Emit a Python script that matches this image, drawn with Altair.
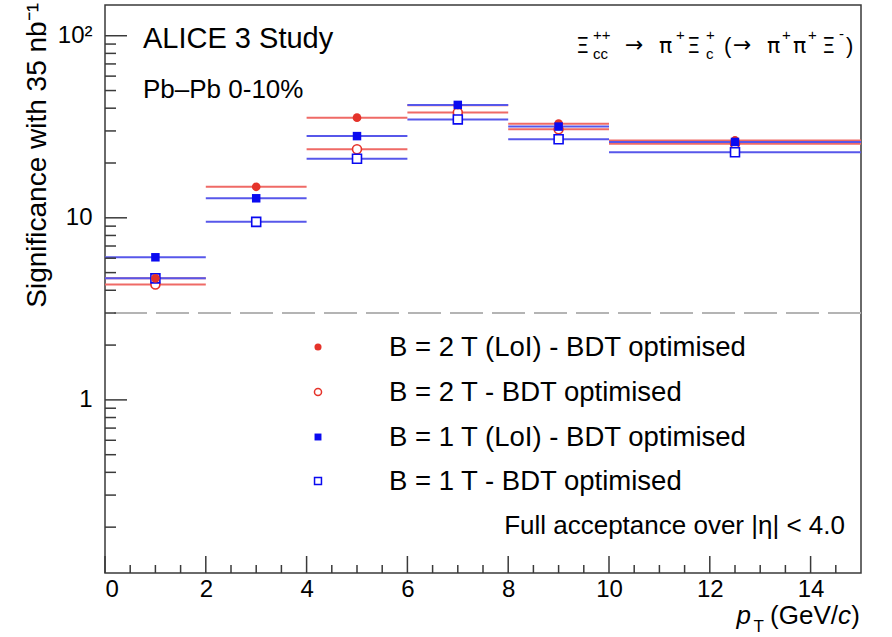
import altair as alt
import pandas as pd

# ---------------- data ----------------
pt_lo = [0, 2, 4, 6, 8, 10]
pt_hi = [2, 4, 6, 8, 10, 15]
pt_center = [1, 3, 5, 7, 9, 12.5]

sig_2T_LoI = [4.65, 14.8, 35.5, 41.5, 32.9, 26.6]
sig_2T = [4.30, None, 23.8, 37.9, 30.6, 25.5]
sig_1T_LoI = [6.07, 12.8, 28.1, 41.7, 31.7, 26.1]
sig_1T = [4.65, 9.5, 21.1, 34.7, 27.0, 22.9]

legend_labels = [
    "B = 2 T (LoI) - BDT optimised",
    "B = 2 T - BDT optimised",
    "B = 1 T (LoI) - BDT optimised",
    "B = 1 T - BDT optimised",
]
threshold = [3]
x_major = [0, 2, 4, 6, 8, 10, 12, 14]
x_minor = [0.5, 1, 1.5, 2.5, 3, 3.5, 4.5, 5, 5.5, 6.5, 7, 7.5, 8.5, 9, 9.5,
           10.5, 11, 11.5, 12.5, 13, 13.5, 14.5]
y_major = [1, 10, 100]
y_minor = [0.2, 0.3, 0.4, 0.5, 0.6, 0.7, 0.8, 0.9,
           2, 3, 4, 5, 6, 7, 8, 9,
           20, 30, 40, 50, 60, 70, 80, 90]

# ---------------- style ----------------
W, H = 756, 568
FONT = "Liberation Sans"
SYMF = "DejaVu Sans"
RED_M, RED_L = "#e5332a", "#ef6a66"
BLUE_M, BLUE_L = "#0a0af0", "#5757ea"
FRAME = "#3a3a3a"

xs = alt.Scale(domain=[0, 15], nice=False, zero=False)
ys = alt.Scale(type="log", domain=[0.112, 147.5], nice=False)

AX_X = alt.Axis(values=x_major, title=None, ticks=False, tickSize=0, domain=False,
                grid=False, labelFontSize=24, labelPadding=4, labelFont=FONT,
                labelColor="black", format="d")
AX_Y = alt.Axis(values=y_major, title=None, ticks=False, tickSize=0, domain=False,
                grid=False, labelFontSize=24, labelPadding=13, labelFont=FONT,
                labelColor="black",
                labelExpr="datum.value >= 100 ? '10²' : datum.value >= 10 ? '10' : '1'")


def sdf(vals):
    return pd.DataFrame({"lo": pt_lo, "hi": pt_hi, "pt": pt_center, "sig": vals}).dropna()


def bars(vals, color):
    return alt.Chart(sdf(vals)).mark_rule(color=color, strokeWidth=2).encode(
        x=alt.X("lo:Q", scale=xs, axis=AX_X), x2="hi:Q",
        y=alt.Y("sig:Q", scale=ys, axis=AX_Y))


def pts(vals, shape, color, filled, size):
    if filled:
        m = alt.Chart(sdf(vals)).mark_point(shape=shape, size=size, filled=True,
                                            color=color, opacity=1)
    else:
        m = alt.Chart(sdf(vals)).mark_point(shape=shape, size=size, filled=True,
                                            fill="white", stroke=color, strokeWidth=1.6,
                                            opacity=1, fillOpacity=1)
    return m.encode(x=alt.X("pt:Q", scale=xs, axis=AX_X),
                    y=alt.Y("sig:Q", scale=ys, axis=AX_Y))


one = pd.DataFrame({"a": [0]})


def txt(t, x, y, size, align="left", baseline="alphabetic", style="normal", angle=0, font=FONT):
    kw = dict(text=t, fontSize=size, font=font, align=align, baseline=baseline,
              color="black", fontStyle=style)
    if angle:
        kw["angle"] = angle
    return alt.Chart(one).mark_text(**kw).encode(x=alt.value(x), y=alt.value(y))


# ---------------- layers ----------------
dash = alt.Chart(pd.DataFrame({"v": threshold})).mark_rule(
    color="#b4b4b4", strokeWidth=2, strokeDash=[33, 9]).encode(
    y=alt.Y("v:Q", scale=ys, axis=AX_Y))

ytM = alt.Chart(pd.DataFrame({"v": y_major})).mark_rule(color=FRAME, strokeWidth=1.5).encode(
    y=alt.Y("v:Q", scale=ys, axis=AX_Y), x=alt.value(0), x2=alt.value(22))
ytm = alt.Chart(pd.DataFrame({"v": y_minor})).mark_rule(color=FRAME, strokeWidth=1.5).encode(
    y=alt.Y("v:Q", scale=ys, axis=AX_Y), x=alt.value(0), x2=alt.value(11))
xtM = alt.Chart(pd.DataFrame({"v": x_major})).mark_rule(color=FRAME, strokeWidth=1.5).encode(
    x=alt.X("v:Q", scale=xs, axis=AX_X), y=alt.value(H), y2=alt.value(H - 17))
xtm = alt.Chart(pd.DataFrame({"v": x_minor})).mark_rule(color=FRAME, strokeWidth=1.5).encode(
    x=alt.X("v:Q", scale=xs, axis=AX_X), y=alt.value(H), y2=alt.value(H - 8))

series_lines = [bars(sig_2T_LoI, RED_L), bars(sig_2T, RED_L),
                bars(sig_1T_LoI, BLUE_L), bars(sig_1T, BLUE_L)]
open_pts = [pts(sig_2T, "circle", RED_M, False, 80), pts(sig_1T, "square", BLUE_M, False, 80)]
filled_pts = [pts(sig_2T_LoI, "circle", RED_M, True, 75), pts(sig_1T_LoI, "square", BLUE_M, True, 72)]

# legend
leg_y = [342, 387, 432, 476]
leg_x = 213
leg = [
    alt.Chart(one).mark_point(shape="circle", size=50, filled=True, color=RED_M, opacity=1)
    .encode(x=alt.value(leg_x), y=alt.value(leg_y[0])),
    alt.Chart(one).mark_point(shape="circle", size=50, filled=False, color=RED_M, strokeWidth=1.5, opacity=1)
    .encode(x=alt.value(leg_x), y=alt.value(leg_y[1])),
    alt.Chart(one).mark_point(shape="square", size=48, filled=True, color=BLUE_M, opacity=1)
    .encode(x=alt.value(leg_x), y=alt.value(leg_y[2])),
    alt.Chart(one).mark_point(shape="square", size=48, filled=False, color=BLUE_M, strokeWidth=1.5, opacity=1)
    .encode(x=alt.value(leg_x), y=alt.value(leg_y[3])),
]
for lab, yy in zip(legend_labels, leg_y):
    leg.append(txt(lab, 284, yy + 1, 27.5, baseline="middle"))

# annotations
ann = [
    txt("ALICE 3 Study", 38, 43, 29),
    txt("Pb\u2013Pb 0-10%", 38, 93, 26),
    txt("Full acceptance over |\u03b7| < 4.0", 740, 529, 26, align="right"),
]

# decay text
MB, SUPB, SUBB = 48, 35, 54
decay = [
    txt("\u039e", 471, MB, 21, font=SYMF), txt("++", 488, SUPB, 15), txt("cc", 488, SUBB, 15),
    txt("\u2192", 520, MB - 1, 22, font=SYMF), txt("\u03c0", 554, MB, 22, font=SYMF),
    txt("+", 571, SUPB, 15),
    txt("\u039e", 582, MB, 21, font=SYMF), txt("+", 601, SUPB, 15), txt("c", 601, SUBB, 15),
    txt("(", 619, MB, 22), txt("\u2192", 628, MB - 1, 22, font=SYMF),
    txt("\u03c0", 662, MB, 22, font=SYMF), txt("+", 677, SUPB, 15),
    txt("\u03c0", 688, MB, 22, font=SYMF), txt("+", 703, SUPB, 15),
    txt("\u039e", 717, MB, 21, font=SYMF), txt("-", 734, SUPB - 1, 15),
    txt(")", 741, MB, 22),
]

# axis titles
XB = 619
xtitle = [
    txt(")", 755, XB, 26, align="right"),
    txt("c", 746, XB, 26, align="right", style="italic"),
    txt("(GeV/", 733, XB, 26, align="right"),
    txt("T", 659, XB + 8, 17, align="right"),
    txt("p", 646, XB, 26, align="right", style="italic"),
]
ytitle = [txt("Significance with 35 nb\u207b\u00b9", -67, -2, 28, align="right",
              baseline="middle", angle=270)]

chart = alt.layer(
    dash, *series_lines, *open_pts, *filled_pts, ytM, ytm, xtM, xtm,
    *leg, *ann, *decay, *xtitle, *ytitle
).properties(
    width=W, height=H,
    padding={"left": 105, "top": 5, "right": 31, "bottom": 64},
    autosize=alt.AutoSizeParams(type="none"),
    background="white",
).configure_view(stroke=FRAME, strokeWidth=1.5)

chart.save("out.html", embed_options={"renderer": "svg", "actions": False})
